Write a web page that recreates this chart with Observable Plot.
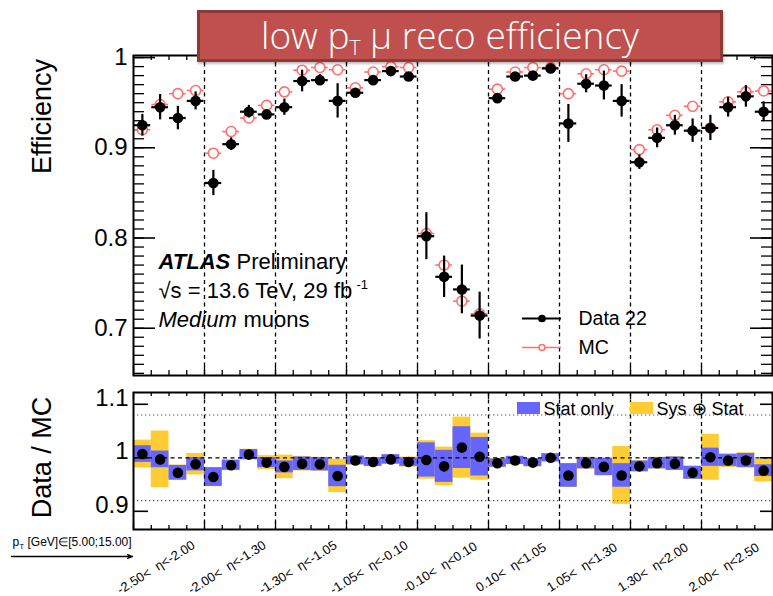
<!DOCTYPE html>
<html>
<head>
<meta charset="utf-8">
<script src="https://cdn.jsdelivr.net/npm/d3@7"></script>
<script src="https://cdn.jsdelivr.net/npm/@observablehq/plot@0.6"></script>
<style>
  body { margin: 0; background: #fff; }
  #wrap { position: relative; width: 773px; height: 596px; overflow: hidden; background: #fff; }
  #top, #bot { position: absolute; left: 0; }
  #top { top: 0; }
  #bot { top: 380px; }
  #title {
    position: absolute; left: 197px; top: 10px; width: 500px; height: 46px;
    background: #c0504d; border: 3px solid #8c3a38; color: #fff;
    font-family: "Open Sans", Lato, sans-serif; font-weight: 300; font-size: 37px;
    line-height: 44px; text-align: center; box-sizing: content-box;
    box-shadow: 1px 2px 2px rgba(0,0,0,0.25); white-space: nowrap;
    padding-right: 20px;
  }
  #title sub { font-size: 21px; vertical-align: -6px; line-height: 0; }
</style>
</head>
<body>
<div id="wrap">
  <div id="top"></div>
  <div id="bot"></div>
  <div id="title">low p<sub>T</sub> μ reco efficiency</div>
</div>
<script>
// ---------------- data ----------------
const regions = [
  "-2.50<\u00a0 η<-2.00", "-2.00<\u00a0 η<-1.30", "-1.30<\u00a0 η<-1.05",
  "-1.05<\u00a0 η<-0.10", "-0.10<\u00a0 η<0.10", "0.10<\u00a0 η<1.05",
  "1.05<\u00a0 η<1.30", "1.30<\u00a0 η<2.00", "2.00<\u00a0 η<2.50"
];
const binsPerRegion = 4;

const dataEff = [0.925,0.945,0.933,0.952, 0.861,0.904,0.940,0.937, 0.945,0.974,0.975,0.952,
                 0.961,0.975,0.985,0.979, 0.802,0.757,0.743,0.714, 0.955,0.979,0.980,0.988,
                 0.927,0.971,0.969,0.952, 0.884,0.911,0.925,0.919, 0.922,0.945,0.957,0.940];
const dataErr = [0.012,0.014,0.013,0.010, 0.014,0.007,0.007,0.005, 0.009,0.012,0.006,0.019,
                 0.004,0.004,0.004,0.004, 0.026,0.023,0.027,0.026, 0.005,0.003,0.003,0.003,
                 0.021,0.010,0.016,0.018, 0.008,0.011,0.011,0.013, 0.014,0.011,0.012,0.011];
const mcEff   = [0.920,0.948,0.960,0.9635, 0.894,0.918,0.933,0.947, 0.962,0.986,0.989,0.9865,
                 0.9665,0.984,0.990,0.989, 0.805,0.770,0.730,0.716, 0.965,0.984,0.989,0.989,
                 0.960,0.982,0.9865,0.985, 0.898,0.920,0.936,0.946, 0.922,0.951,0.962,0.963];
const ratio   = [1.007,0.997,0.972,0.988, 0.964,0.986,1.006,0.991, 0.983,0.989,0.988,0.966,
                 0.995,0.992,0.997,0.992, 0.996,0.984,1.019,1.002, 0.990,0.995,0.991,1.000,
                 0.967,0.990,0.983,0.967, 0.984,0.990,0.989,0.972, 1.001,0.995,0.995,0.976];
const statErr = [0.0156,0.0156,0.0137,0.0125, 0.0175,0.0094,0.0094,0.0094, 0.0112,0.0125,0.0125,0.020,
                 0.008,0.008,0.0087,0.008, 0.032,0.030,0.039,0.036, 0.0075,0.0075,0.0075,0.0075,
                 0.022,0.0106,0.016,0.022, 0.010,0.0106,0.0125,0.012, 0.017,0.011,0.013,0.011];
const totErr  = [0.026,0.053,0.0145,0.020, 0.018,0.010,0.010,0.013, 0.022,0.0137,0.013,0.031,
                 0.0087,0.0087,0.0094,0.0094, 0.036,0.036,0.057,0.044, 0.0087,0.008,0.008,0.008,
                 0.0225,0.011,0.017,0.054, 0.0106,0.011,0.013,0.0125, 0.043,0.013,0.0144,0.021];

const effTicks = [0.7, 0.8, 0.9, 1];
const ratioTicks = [0.9, 1, 1.1];
const ratioGuides = [1.08, 0.92];
const legendTop = [{label: "Data 22", kind: "data"}, {label: "MC", kind: "mc"}];
const legendRatio = [{label: "Stat only", color: "#6666ff"}, {label: "Sys \u2295 Stat", color: "#ffcc33"}];

// ---------------- layout ----------------
const W = 773;
const nBins = dataEff.length;
const FONT = "'Liberation Sans', Arial, Helvetica, sans-serif";
const X0 = 133, X1 = 772, BIN = (X1 - X0) / nBins;
const xPx = px => (px - X0) / BIN;

const rows = dataEff.map((d, i) => ({
  i, eff: d, err: dataErr[i], mc: mcEff[i], r: ratio[i], s: statErr[i], t: totErr[i]
}));
const edges = d3.range(0, nBins + 1);
const bounds = d3.range(binsPerRegion, nBins, binsPerRegion);
const regionRows = regions.map((label, k) => ({label, c: k * binsPerRegion + binsPerRegion / 2}));

// top panel
const topH = 380, topMT = 55, topMB = 5;
const yTop = [0.6476, 1.0023];
const topFH = topH - topMT - topMB;
const yTopPx = py => yTop[1] - (py - topMT) * (yTop[1] - yTop[0]) / topFH;
const uTop = (yTop[1] - yTop[0]) / topFH; // data units per px

const minorTop = d3.range(65, 101).map(v => v / 100).filter(v => v >= yTop[0] && v <= yTop[1]);
const AF = 22; // annotation font size

const topPlot = Plot.plot({
  width: W, height: topH,
  marginLeft: X0, marginRight: W - X1, marginTop: topMT, marginBottom: topMB,
  style: {fontFamily: FONT, fontSize: "24px", background: "transparent"},
  x: {domain: [0, nBins], axis: null},
  y: {domain: yTop, axis: null},
  marks: [
    // region boundaries
    Plot.ruleX(bounds, {x: d => d, stroke: "black", strokeWidth: 1.3, strokeDasharray: "4,3.5"}),
    // inward ticks: y axis (left & right)
    Plot.ruleY(minorTop, {y: d => d, x1: 0, x2: xPx(X0 + 11), stroke: "black", strokeWidth: 1.3}),
    Plot.ruleY(minorTop, {y: d => d, x1: nBins, x2: xPx(X1 - 11), stroke: "black", strokeWidth: 1.3}),
    Plot.ruleY(effTicks, {y: d => d, x1: 0, x2: xPx(X0 + 22), stroke: "black", strokeWidth: 1.6}),
    Plot.ruleY(effTicks, {y: d => d, x1: nBins, x2: xPx(X1 - 22), stroke: "black", strokeWidth: 1.6}),
    // inward ticks: x axis (bottom & top)
    Plot.ruleX(edges, {x: d => d, y1: yTop[0], y2: d => yTop[0] + (d % binsPerRegion === 0 ? 9 : 5) * uTop, stroke: "black", strokeWidth: 1.3}),
    Plot.ruleX(edges, {x: d => d, y1: yTop[1], y2: d => yTop[1] - (d % binsPerRegion === 0 ? 9 : 5) * uTop, stroke: "black", strokeWidth: 1.3}),
    // MC
    Plot.ruleY(rows, {y: "mc", x1: d => d.i + 0.03, x2: d => d.i + 0.97, stroke: "#ff6f6f", strokeWidth: 1.6}),
    Plot.dot(rows, {x: d => d.i + 0.5, y: "mc", r: 5, fill: "white", stroke: "#ff6f6f", strokeWidth: 1.6}),
    // Data
    Plot.ruleY(rows, {y: "eff", x1: d => d.i + 0.03, x2: d => d.i + 0.97, stroke: "black", strokeWidth: 2.2}),
    Plot.ruleX(rows, {x: d => d.i + 0.5, y1: d => d.eff - d.err, y2: d => d.eff + d.err, stroke: "black", strokeWidth: 2.2}),
    Plot.dot(rows, {x: d => d.i + 0.5, y: "eff", r: 5.3, fill: "black"}),
    // y tick labels
    Plot.text(effTicks, {x: 0, y: d => d, text: d => d === 1 ? "1" : d.toFixed(1), dx: -6, textAnchor: "end", fontSize: 24, fill: "black"}),
    // y title
    Plot.text(["Efficiency"], {x: xPx(42), y: yTopPx(116), rotate: -90, fontSize: 27, fill: "black"}),
    // ATLAS label
    Plot.text(["ATLAS"], {x: xPx(158), y: yTopPx(261), textAnchor: "start", fontSize: AF, fontWeight: "bold", fontStyle: "italic", fill: "black"}),
    Plot.text(["Preliminary"], {x: xPx(236), y: yTopPx(261), textAnchor: "start", fontSize: AF, fill: "black"}),
    Plot.text(["\u221As = 13.6 TeV, 29 fb"], {x: xPx(158), y: yTopPx(290), textAnchor: "start", fontSize: AF, fill: "black"}),
    Plot.text(["-1"], {x: xPx(356), y: yTopPx(284.5), textAnchor: "start", fontSize: 13, fill: "black"}),
    Plot.text(["Medium"], {x: xPx(158), y: yTopPx(319.5), textAnchor: "start", fontSize: AF, fontStyle: "italic", fill: "black"}),
    Plot.text(["muons"], {x: xPx(243), y: yTopPx(319.5), textAnchor: "start", fontSize: AF, fill: "black"}),
    // legend
    Plot.ruleY(legendTop, {y: (d, k) => yTopPx(318 + 29 * k), x1: xPx(522), x2: xPx(561),
      stroke: d => d.kind === "data" ? "black" : "#ff6f6f", strokeWidth: d => d.kind === "data" ? 2.2 : 1.6}),
    Plot.dot(legendTop, {x: xPx(541.5), y: (d, k) => yTopPx(318 + 29 * k), r: d => d.kind === "data" ? 5.3 : 5,
      fill: d => d.kind === "data" ? "black" : "white", stroke: d => d.kind === "data" ? "black" : "#ff6f6f", strokeWidth: 1.6}),
    Plot.text(legendTop, {x: xPx(578), y: (d, k) => yTopPx(318 + 29 * k), text: "label", textAnchor: "start", fontSize: 19.5, fill: "black"}),
    Plot.frame({stroke: "black", strokeWidth: 2})
  ]
});
document.getElementById("top").appendChild(topPlot);

// ratio panel
const botTop = 380;
const botH = 596 - botTop, botMT = 392 - botTop, botMB = 596 - 529;
const yRat = [0.866, 1.122];
const botFH = botH - botMT - botMB;
const uRat = (yRat[1] - yRat[0]) / botFH;
const yRatPx = pyAbs => yRat[1] - (pyAbs - botTop - botMT) * uRat;

const botPlot = Plot.plot({
  width: W, height: botH,
  marginLeft: X0, marginRight: W - X1, marginTop: botMT, marginBottom: botMB,
  style: {fontFamily: FONT, fontSize: "24px", background: "transparent"},
  x: {domain: [0, nBins], axis: null},
  y: {domain: yRat, axis: null},
  marks: [
    // bands
    Plot.rect(rows, {x1: d => d.i, x2: d => d.i + 1, y1: d => d.r - d.t, y2: d => d.r + d.t, fill: "#ffcc33"}),
    Plot.rect(rows, {x1: d => d.i, x2: d => d.i + 1, y1: d => d.r - d.s, y2: d => d.r + d.s, fill: "#6666ff"}),
    // guides
    Plot.ruleY(ratioGuides, {y: d => d, stroke: "#555", strokeWidth: 1.2, strokeDasharray: "1.3,2.7"}),
    Plot.ruleY([1], {y: d => d, stroke: "black", strokeWidth: 1.3, strokeDasharray: "4,3.5"}),
    Plot.ruleX(bounds, {x: d => d, stroke: "black", strokeWidth: 1.3, strokeDasharray: "4,3.5"}),
    // ticks
    Plot.ruleY(ratioTicks, {y: d => d, x1: 0, x2: xPx(X0 + 15), stroke: "black", strokeWidth: 1.6}),
    Plot.ruleY(ratioTicks, {y: d => d, x1: nBins, x2: xPx(X1 - 12), stroke: "black", strokeWidth: 1.6}),
    Plot.ruleX(edges, {x: d => d, y1: yRat[0], y2: d => yRat[0] + (d % binsPerRegion === 0 ? 7 : 4) * uRat, stroke: "black", strokeWidth: 1.3}),
    Plot.ruleX(edges, {x: d => d, y1: yRat[1], y2: d => yRat[1] - (d % binsPerRegion === 0 ? 7 : 4) * uRat, stroke: "black", strokeWidth: 1.3}),
    // points
    Plot.dot(rows, {x: d => d.i + 0.5, y: "r", r: 5.3, fill: "black"}),
    // y labels
    Plot.text(ratioTicks, {x: 0, y: d => d, text: d => d === 1 ? "1" : d.toFixed(1), dx: -5, dy: -6, textAnchor: "end", fontSize: 24, fill: "black"}),
    Plot.text(["Data / MC"], {x: xPx(42), y: yRatPx(457), rotate: -90, fontSize: 27, fill: "black"}),
    // legend
    Plot.rect(legendRatio, {x1: (d, k) => xPx(517 + 113 * k), x2: (d, k) => xPx(540 + 113 * k),
      y1: yRatPx(414), y2: yRatPx(402), fill: "color"}),
    Plot.text(legendRatio, {x: (d, k) => xPx(543 + 113 * k), y: yRatPx(409), text: "label", textAnchor: "start", fontSize: 18, fill: "black"}),
    // x labels
    Plot.text(regionRows, {x: "c", y: yRatPx(567), text: "label", rotate: -32, dx: -13, fontSize: 13, fill: "black"}),
    // pT range label + arrow
    Plot.text(["p"], {x: xPx(12), y: yRatPx(542), textAnchor: "start", fontSize: 12, fill: "black"}),
    Plot.text(["T"], {x: xPx(19), y: yRatPx(546), textAnchor: "start", fontSize: 7.5, fill: "black"}),
    Plot.text(["[GeV]\u2208[5.00;15.00]"], {x: xPx(27), y: yRatPx(542), textAnchor: "start", fontSize: 12, fill: "black"}),
    Plot.arrow([0], {x1: xPx(11), x2: xPx(132), y1: yRatPx(556), y2: yRatPx(556), stroke: "black", strokeWidth: 1.3, headLength: 6, headAngle: 40}),
    Plot.frame({stroke: "black", strokeWidth: 2})
  ]
});
document.getElementById("bot").appendChild(botPlot);
</script>
</body>
</html>
